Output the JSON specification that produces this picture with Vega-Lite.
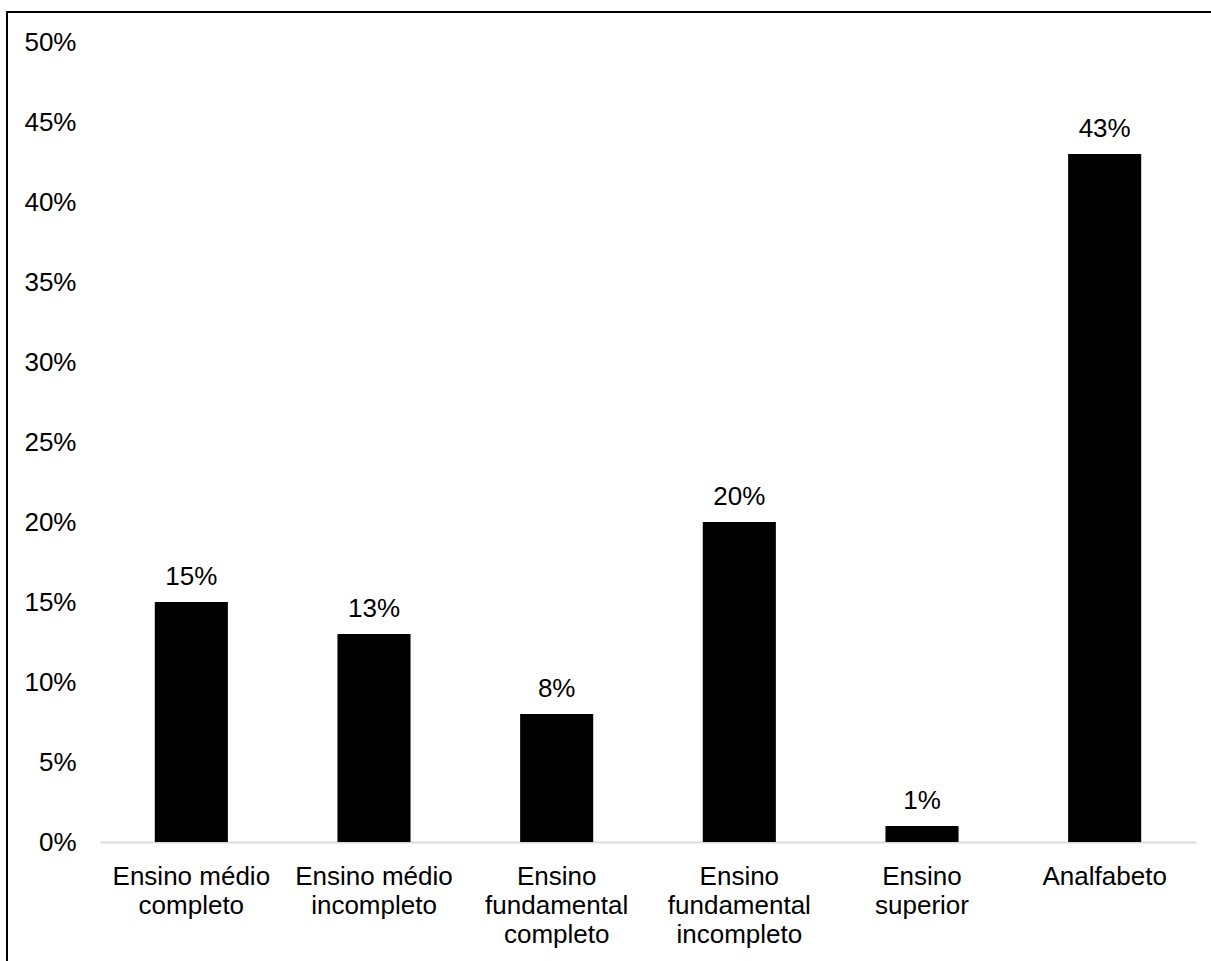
{
  "$schema": "https://vega.github.io/schema/vega-lite/v6.json",
  "autosize": {"type": "none"},
  "padding": {"left": 7, "top": 12, "right": 0, "bottom": 0},
  "width": 1206,
  "height": 951,
  "background": "white",
  "config": {
    "view": {"stroke": "black", "strokeWidth": 2},
    "font": "Liberation Sans",
    "axis": {"labelFont": "Liberation Sans", "labelColor": "#000000", "labelFontSize": 26, "grid": false, "ticks": false, "title": null}
  },
  "data": {
    "values": [
      {"categoria": "Ensino médio completo", "valor": 0.15},
      {"categoria": "Ensino médio incompleto", "valor": 0.13},
      {"categoria": "Ensino fundamental completo", "valor": 0.08},
      {"categoria": "Ensino fundamental incompleto", "valor": 0.20},
      {"categoria": "Ensino superior", "valor": 0.01},
      {"categoria": "Analfabeto", "valor": 0.43}
    ]
  },
  "encoding": {
    "x": {
      "field": "categoria",
      "type": "nominal",
      "sort": null,
      "scale": {"range": [93, 1189], "paddingInner": 0.6, "paddingOuter": 0.3},
      "axis": {
        "orient": "bottom",
        "offset": -121,
        "labelAngle": 0,
        "labelPadding": 21,
        "labelLineHeight": 29,
        "labelBaseline": "top",
        "labelOverlap": false,
        "labelBound": false,
        "labelLimit": 0,
        "domain": true,
        "domainColor": "#d9d9d9",
        "domainWidth": 2,
        "labelExpr": "datum.value == 'Ensino médio completo' ? ['Ensino médio', 'completo'] : datum.value == 'Ensino médio incompleto' ? ['Ensino médio', 'incompleto'] : datum.value == 'Ensino fundamental completo' ? ['Ensino', 'fundamental', 'completo'] : datum.value == 'Ensino fundamental incompleto' ? ['Ensino', 'fundamental', 'incompleto'] : datum.value == 'Ensino superior' ? ['Ensino', 'superior'] : datum.value"
      }
    },
    "y": {
      "field": "valor",
      "type": "quantitative",
      "scale": {"domain": [0, 0.5], "range": [830, 30], "nice": false, "zero": true},
      "axis": {
        "orient": "left",
        "offset": -93,
        "domain": false,
        "labelPadding": 24,
        "values": [0, 0.05, 0.1, 0.15, 0.2, 0.25, 0.3, 0.35, 0.4, 0.45, 0.5],
        "format": ".0%"
      }
    }
  },
  "layer": [
    {"mark": {"type": "bar", "color": "#000000"}},
    {
      "mark": {"type": "text", "font": "Liberation Sans", "fontSize": 26, "color": "#000000", "baseline": "alphabetic", "dy": -17},
      "encoding": {"text": {"field": "valor", "type": "quantitative", "format": ".0%"}}
    }
  ]
}
